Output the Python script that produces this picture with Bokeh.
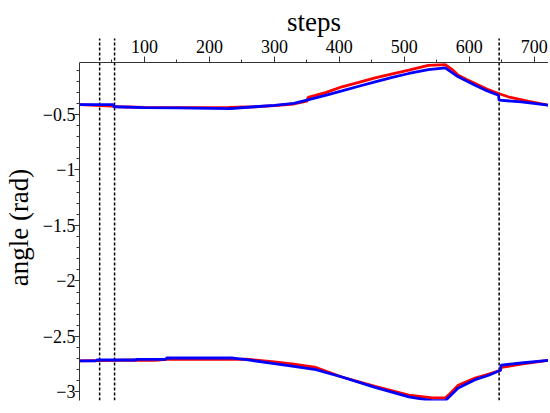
from bokeh.plotting import figure
from bokeh.models import Range1d, FixedTicker, CustomJSTickFormatter
from bokeh.embed import file_html
from bokeh.resources import INLINE

# ---- data ----
upper_red_steps = [0, 50, 60, 100, 150, 230, 270, 300, 330, 350, 352, 380, 404, 430, 455, 480, 507, 537, 563, 575, 583, 596, 609, 627, 645, 660, 690, 722]
upper_red = [-0.41, -0.425, -0.43, -0.435, -0.437, -0.435, -0.43, -0.42, -0.405, -0.38, -0.345, -0.30, -0.25, -0.21, -0.17, -0.135, -0.10, -0.056, -0.05, -0.10, -0.146, -0.185, -0.22, -0.27, -0.31, -0.34, -0.38, -0.416]

upper_blue_steps = [0, 52, 53, 100, 150, 232, 270, 300, 330, 350, 380, 404, 430, 455, 480, 507, 537, 563, 583, 609, 627, 645, 646, 680, 722]
upper_blue = [-0.41, -0.41, -0.43, -0.437, -0.44, -0.446, -0.43, -0.418, -0.40, -0.37, -0.325, -0.287, -0.245, -0.205, -0.167, -0.13, -0.095, -0.079, -0.16, -0.236, -0.285, -0.326, -0.371, -0.385, -0.416]

lower_red_steps = [0, 87, 90, 116, 133, 236, 257, 300, 330, 364, 404, 455, 507, 543, 563, 568, 583, 609, 630, 648, 649, 680, 722]
lower_red = [-2.72, -2.713, -2.716, -2.716, -2.707, -2.707, -2.705, -2.73, -2.75, -2.78, -2.866, -2.95, -3.03, -3.055, -3.055, -3.03, -2.94, -2.875, -2.84, -2.806, -2.78, -2.75, -2.716]

lower_blue_steps = [0, 26, 27, 87, 88, 133, 134, 236, 257, 300, 330, 364, 404, 455, 507, 543, 563, 583, 609, 630, 648, 649, 680, 722]
lower_blue = [-2.72, -2.72, -2.713, -2.713, -2.707, -2.707, -2.695, -2.695, -2.71, -2.745, -2.77, -2.80, -2.866, -2.96, -3.045, -3.08, -3.08, -2.966, -2.89, -2.85, -2.806, -2.76, -2.74, -2.716]

event_steps = [31, 54, 646]

x_major_ticks = [100, 200, 300, 400, 500, 600, 700]
x_minor_ticks = [50, 150, 250, 350, 450, 550, 650]
y_major_ticks = [-0.5, -1.0, -1.5, -2.0, -2.5, -3.0]
y_minor_ticks = [round(-0.1 * i, 1) for i in range(1, 31)]

X_START, X_END = 0, 722
Y_START = -3.078        # bottom of the plot
Y_AXIS_TOP = -0.031     # where the top (steps) axis line sits
Y_EVENT_TOP = 0.185     # event lines reach a little above the axis line
Y_END = 0.528           # top of the drawing area (room for the top axis texts)

FONT = "Liberation Serif"

p = figure(frame_width=469, frame_height=400,
           x_range=Range1d(X_START, X_END), y_range=Range1d(Y_START, Y_END),
           x_axis_location="above",
           output_backend="svg", toolbar_location=None,
           min_border_left=73, min_border_right=0, min_border_top=0, min_border_bottom=5)
p.outline_line_color = None
p.grid.visible = False
p.background_fill_color = "white"
p.border_fill_color = "white"

# axes
xa = p.xaxis[0]
xa.ticker = FixedTicker(ticks=x_major_ticks, minor_ticks=x_minor_ticks)
xa.axis_label = "steps"
xa.fixed_location = Y_AXIS_TOP
ya = p.yaxis[0]
ya.ticker = FixedTicker(ticks=y_major_ticks, minor_ticks=y_minor_ticks)
# em spaces at the end centre the title on the drawn part of the axis
ya.axis_label = "angle (rad)\u2003\u2003"
ya.bounds = (Y_START, Y_AXIS_TOP)
ya.formatter = CustomJSTickFormatter(code="return tick.toString().replace('-', '\u2212')")

for ax in (xa, ya):
    ax.axis_label_text_font = FONT
    ax.axis_label_text_font_style = "normal"
    ax.axis_label_text_font_size = "27px"
    ax.axis_label_text_color = "black"
    ax.major_label_text_font = FONT
    ax.major_label_text_font_size = "18px"
    ax.major_label_text_color = "black"
    ax.axis_line_color = "#333333"
    ax.major_tick_line_color = "#333333"
    ax.minor_tick_line_color = "#333333"
    ax.major_tick_in = 0
    ax.minor_tick_in = 0
    ax.minor_tick_out = 3
xa.major_tick_out = 6
ya.major_tick_out = 5
xa.major_label_standoff = 4
xa.axis_label_standoff = 0
ya.major_label_standoff = -1
ya.axis_label_standoff = 6

# event lines (dashed)
p.segment(x0=event_steps, y0=[Y_START] * len(event_steps),
          x1=event_steps, y1=[Y_EVENT_TOP] * len(event_steps),
          line_color="black", line_width=1.5, line_dash="3 2")

LW = 2.8
p.line(upper_red_steps, upper_red, line_color="#ff0000", line_width=LW)
p.line(lower_red_steps, lower_red, line_color="#ff0000", line_width=LW)
p.line(upper_blue_steps, upper_blue, line_color="#0000ff", line_width=LW)
p.line(lower_blue_steps, lower_blue, line_color="#0000ff", line_width=LW)

open("out.html", "w").write(file_html(p, INLINE))
